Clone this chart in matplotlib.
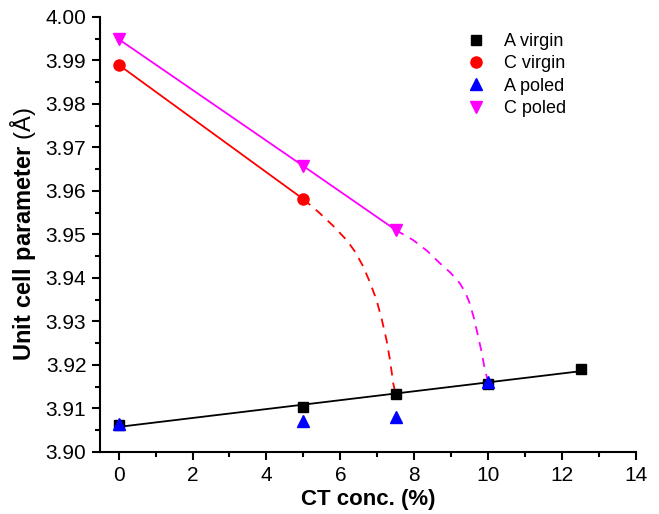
import numpy as np
import matplotlib
matplotlib.use("Agg")
import matplotlib.pyplot as plt
from matplotlib.ticker import MultipleLocator, FormatStrFormatter

plt.rcParams['font.family'] = ['Liberation Sans', 'DejaVu Sans']
plt.rcParams['mathtext.fontset'] = 'custom'
plt.rcParams['mathtext.rm'] = 'Liberation Sans'
plt.rcParams['mathtext.bf'] = 'Liberation Sans:bold'

# Data
x_a_virgin = [0, 5, 7.5, 10, 12.5]
y_a_virgin = [3.9062, 3.9103, 3.9132, 3.9157, 3.9191]

x_c_virgin = [0, 5]
y_c_virgin = [3.9890, 3.9581]

x_a_poled = [0, 5, 7.5, 10]
y_a_poled = [3.9063, 3.9071, 3.9080, 3.9161]

x_c_poled = [0, 5, 7.5]
y_c_poled = [3.9949, 3.9657, 3.9510]

# Hand-drawn guide curves (dashed)
x_red_guide = [5.0, 5.44, 5.80, 6.17, 6.40, 6.62, 6.80, 6.98, 7.12, 7.25, 7.35, 7.43, 7.5]
y_red_guide = [3.9581, 3.9549, 3.9520, 3.9487, 3.9460, 3.9426, 3.9390, 3.9349, 3.9305, 3.9257, 3.9208, 3.9158, 3.9132]
x_mag_guide = [7.5, 7.97, 8.35, 8.69, 8.98, 9.23, 9.38, 9.50, 9.62, 9.73, 9.83, 9.91, 10.0]
y_mag_guide = [3.9510, 3.9487, 3.9462, 3.9434, 3.9412, 3.9388, 3.9367, 3.9342, 3.9306, 3.9265, 3.9227, 3.9189, 3.9161]

fig = plt.figure(figsize=(6.59, 5.14), dpi=100)
ax = fig.add_axes([0.152, 0.121, 0.813, 0.846])

# fit line for A virgin
coef = np.polyfit(x_a_virgin, y_a_virgin, 1)
xf = np.array([0, 12.5])
ax.plot(xf, np.polyval(coef, xf), color='black', lw=1.3, zorder=2)

ax.plot(x_c_virgin, y_c_virgin, color='red', lw=1.3, zorder=2)
ax.plot(x_c_poled, y_c_poled, color='magenta', lw=1.3, zorder=2)
ax.plot(x_red_guide, y_red_guide, color='red', lw=1.3, ls=(0, (5, 4)), zorder=2)
ax.plot(x_mag_guide, y_mag_guide, color='magenta', lw=1.3, ls=(0, (5, 4)), zorder=2)

ax.plot(x_a_virgin, y_a_virgin, 's', color='black', ms=7, ls='none', label='A virgin', zorder=3)
ax.plot(x_c_virgin, y_c_virgin, 'o', color='red', ms=8, ls='none', label='C virgin', zorder=3)
ax.plot(x_a_poled, y_a_poled, '^', color='blue', ms=8.5, ls='none', label='A poled', zorder=3)
ax.plot(x_c_poled, y_c_poled, 'v', color='magenta', ms=8.5, ls='none', label='C poled', zorder=3)

ax.set_xlim(-0.5, 14)
ax.set_ylim(3.90, 4.00)
ax.xaxis.set_major_locator(MultipleLocator(2))
ax.xaxis.set_minor_locator(MultipleLocator(1))
ax.yaxis.set_major_locator(MultipleLocator(0.01))
ax.yaxis.set_minor_locator(MultipleLocator(0.005))
ax.yaxis.set_major_formatter(FormatStrFormatter('%.2f'))

for s in ['top', 'right']:
    ax.spines[s].set_visible(False)
for s in ['left', 'bottom']:
    ax.spines[s].set_linewidth(1.5)

ax.tick_params(which='major', direction='out', length=6, width=1.5, labelsize=15, pad=4)
ax.tick_params(which='minor', direction='out', length=3.5, width=1.5)

ax.set_xlabel('CT conc. (%)', fontsize=16, fontweight='bold', labelpad=3)
ax.set_ylabel(r'$\mathbf{Unit\ cell\ parameter}$ (Å)', fontsize=17, labelpad=5)

ax.legend(loc='upper left', bbox_to_anchor=(0.672, 0.98), frameon=False, fontsize=13,
          handlelength=1.0, handletextpad=1.0, labelspacing=0.3, borderaxespad=0.0)

fig.savefig('out.png', dpi=100)
